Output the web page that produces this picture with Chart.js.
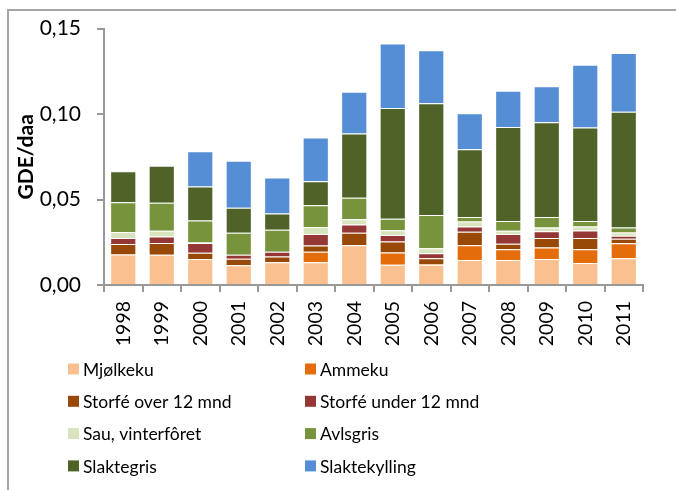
<!DOCTYPE html>
<html>
<head>
<meta charset="utf-8">
<script src="https://cdn.jsdelivr.net/npm/chart.js@4"></script>
<style>
    html, body { margin: 0; padding: 0; background: #fff; overflow: hidden; }
    #frame { position: absolute; left: 7px; top: 9px; width: 720px; height: 520px; border: 2px solid #a6a6a6; box-sizing: border-box; }
    #wrap { position: absolute; left: 0; top: 0; width: 676px; height: 490px; }
</style>
</head>
<body>
<div id="frame"></div>
<div id="wrap"><canvas id="gdeChart"></canvas></div>
<script>
const years = ['1998', '1999', '2000', '2001', '2002', '2003', '2004', '2005', '2006', '2007', '2008', '2009', '2010', '2011'];
const yTicks = [0, 0.05, 0.10, 0.15];

const mjolkeku      = [0.0179, 0.0177, 0.0152, 0.0115, 0.0133, 0.0133, 0.0233, 0.0119, 0.0119, 0.0146, 0.0146, 0.0152, 0.0129, 0.0156];
const ammeku        = [0, 0, 0, 0, 0, 0.0061, 0, 0.0071, 0.0004, 0.0087, 0.0063, 0.0067, 0.0080, 0.0088];
const storfeOver    = [0.0061, 0.0069, 0.0036, 0.0039, 0.0034, 0.0037, 0.0073, 0.0064, 0.0034, 0.0078, 0.0033, 0.0056, 0.0066, 0.0027];
const storfeUnder   = [0.0035, 0.0038, 0.0058, 0.0023, 0.0027, 0.0067, 0.0048, 0.0038, 0.0029, 0.0031, 0.0056, 0.0040, 0.0044, 0.0017];
const sau           = [0.0035, 0.0033, 0.0003, 0, 0, 0.0042, 0.0030, 0.0029, 0.0029, 0.0029, 0.0019, 0.0021, 0.0023, 0.0019];
const avlsgris      = [0.0174, 0.0164, 0.0129, 0.0129, 0.0129, 0.0127, 0.0127, 0.0067, 0.0194, 0.0027, 0.0058, 0.0062, 0.0033, 0.0029];
const slaktegris    = [0.0181, 0.0217, 0.0198, 0.0146, 0.0096, 0.0140, 0.0375, 0.0648, 0.0654, 0.0396, 0.0549, 0.0554, 0.0546, 0.0677];
const slaktekylling = [0.0004, 0, 0.0206, 0.0275, 0.0210, 0.0256, 0.0244, 0.0377, 0.0311, 0.0211, 0.0212, 0.0211, 0.0367, 0.0344];

const FONT = 'Lato, "Open Sans", sans-serif';

function series(label, data, color) {
    return {
        label: label,
        data: data,
        backgroundColor: color,
        borderColor: 'rgba(255,255,255,0.35)',
        borderWidth: 1,
        barPercentage: 0.68,
        categoryPercentage: 1
    };
}

// legend in two columns under the year labels
const gridLegend = {
    id: 'gridLegend',
    afterDraw(chart) {
        const ctx = chart.ctx;
        ctx.save();
        ctx.font = '17.5px ' + FONT;
        ctx.textBaseline = 'middle';
        ctx.textAlign = 'left';
        chart.data.datasets.forEach((ds, i) => {
            const col = i % 2;
            const row = Math.floor(i / 2);
            const x = col === 0 ? 68 : 305;
            const y = 369 + row * 32.3;
            ctx.fillStyle = ds.backgroundColor;
            ctx.fillRect(x, y - 5.5, 11, 11);
            ctx.fillStyle = '#000';
            ctx.fillText(ds.label, x + 15, y + 1);
        });
        ctx.restore();
    }
};

document.addEventListener('DOMContentLoaded', () => {
    const ctx = document.getElementById('gdeChart').getContext('2d');
    new Chart(ctx, {
        type: 'bar',
        data: {
            labels: years,
            datasets: [
                series('Mjølkeku', mjolkeku, '#FAC090'),
                series('Ammeku', ammeku, '#E46C0A'),
                series('Storfé over 12 mnd', storfeOver, '#984807'),
                series('Storfé under 12 mnd', storfeUnder, '#953735'),
                series('Sau, vinterfôret', sau, '#D7E4BD'),
                series('Avlsgris', avlsgris, '#77933C'),
                series('Slaktegris', slaktegris, '#4F6228'),
                series('Slaktekylling', slaktekylling, '#558ED5')
            ]
        },
        options: {
            responsive: true,
            maintainAspectRatio: false,
            animation: false,
            layout: { padding: { left: 0, top: 25, right: 33, bottom: 0 } },
            plugins: {
                legend: { display: false },
                tooltip: { enabled: false }
            },
            scales: {
                x: {
                    stacked: true,
                    afterFit: (scale) => { scale.height = 205; },
                    grid: { display: true, drawOnChartArea: false, offset: true, tickLength: 7, color: '#999', lineWidth: 2 },
                    border: { display: true, color: '#999', width: 2 },
                    ticks: {
                        minRotation: 90,
                        maxRotation: 90,
                        padding: 9,
                        color: '#000',
                        font: { family: FONT, size: 19.5 }
                    }
                },
                y: {
                    stacked: true,
                    min: 0,
                    max: 0.15,
                    afterFit: (scale) => { scale.width = 104; },
                    afterBuildTicks: (scale) => { scale.ticks = yTicks.map(v => ({ value: v })); },
                    grid: { display: true, drawOnChartArea: false, tickLength: 7, color: '#999', lineWidth: 2 },
                    border: { display: true, color: '#999', width: 2 },
                    ticks: {
                        padding: 16,
                        color: '#000',
                        font: { family: FONT, size: 21 },
                        callback: (v) => v.toFixed(2).replace('.', ',')
                    },
                    title: {
                        display: true,
                        text: 'GDE/daa',
                        color: '#000',
                        font: { family: FONT, size: 21, weight: 'bold' },
                        padding: { top: 14, bottom: 0 }
                    }
                }
            }
        },
        plugins: [gridLegend]
    });
});
</script>
</body>
</html>
